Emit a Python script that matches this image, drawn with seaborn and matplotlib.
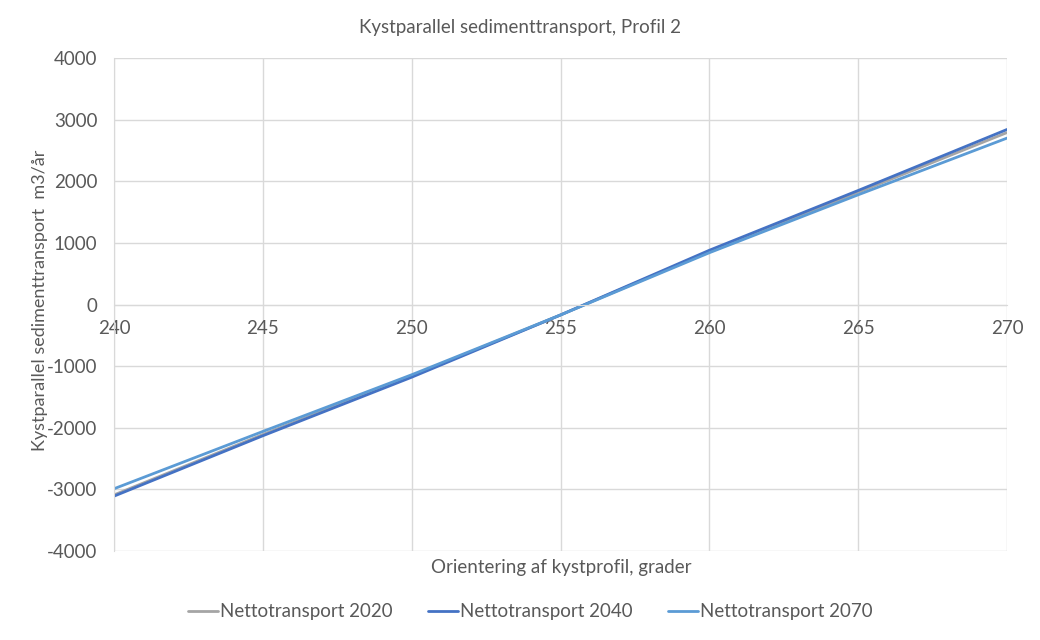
import numpy as np
import pandas as pd
import matplotlib
matplotlib.use("Agg")
import matplotlib.pyplot as plt
import seaborn as sns

# Data
orientation = [240, 245, 250, 255, 260, 265, 270]
netto_2020 = [-3090, -2110, -1160, -170, 860, 1820, 2790]
netto_2040 = [-3110, -2130, -1180, -170, 880, 1850, 2840]
netto_2070 = [-2990, -2060, -1140, -170, 840, 1780, 2700]
series_names = ["Nettotransport 2020", "Nettotransport 2040", "Nettotransport 2070"]
colors = ["#A5A5A5", "#4472C4", "#5B9BD5"]

df = pd.DataFrame({
    "orientering": orientation * 3,
    "transport": netto_2020 + netto_2040 + netto_2070,
    "serie": np.repeat(series_names, len(orientation)),
})

sns.set_style("white")
plt.rcParams["font.family"] = ["Lato", "DejaVu Sans"]
plt.rcParams["axes.unicode_minus"] = False
text_col = "#595959"
grid_col = "#D9D9D9"

fig = plt.figure(figsize=(10.4, 6.4), dpi=100)
ax = fig.add_axes([114 / 1040, 89 / 640, 893 / 1040, 493 / 640])

sns.lineplot(data=df, x="orientering", y="transport", hue="serie",
             palette=dict(zip(series_names, colors)), linewidth=2.0,
             ax=ax, legend=False)

ax.set_xlim(240, 270)
ax.set_ylim(-4000, 4000)
ax.set_xticks(range(240, 271, 5))
ax.set_yticks(range(-4000, 4001, 1000))
ax.grid(True, color=grid_col, linewidth=1)
ax.set_axisbelow(True)
for s in ["top", "right"]:
    ax.spines[s].set_visible(False)
ax.spines["left"].set_color(grid_col)
ax.spines["bottom"].set_color(grid_col)
ax.spines["bottom"].set_position(("data", 0))
ax.tick_params(length=0, labelsize=13.5, colors=text_col)
ax.tick_params(axis="x", pad=11)
ax.tick_params(axis="y", pad=12)
ax.set_xlabel("")
ax.set_ylabel("")

fig.text(0.5, 1 - 28 / 640, "Kystparallel sedimenttransport, Profil 2",
         ha="center", va="center", fontsize=13.5, color=text_col)
fig.text(561 / 1040, 1 - 568 / 640, "Orientering af kystprofil, grader",
         ha="center", va="center", fontsize=13.5, color=text_col)
fig.text(40 / 1040, 1 - 300 / 640, "Kystparallel sedimenttransport  m3/år",
         ha="center", va="center", rotation=90, fontsize=13, color=text_col)

handles = [plt.Line2D([0], [0], color=c, lw=2.0) for c in colors]
fig.legend(handles, series_names, loc="center", bbox_to_anchor=(0.51, 1 - 612 / 640),
           ncol=3, frameon=False, fontsize=13.5, labelcolor=text_col,
           handlelength=1.6, handletextpad=0.1, columnspacing=1.9)

fig.savefig("out.png", dpi=100)
